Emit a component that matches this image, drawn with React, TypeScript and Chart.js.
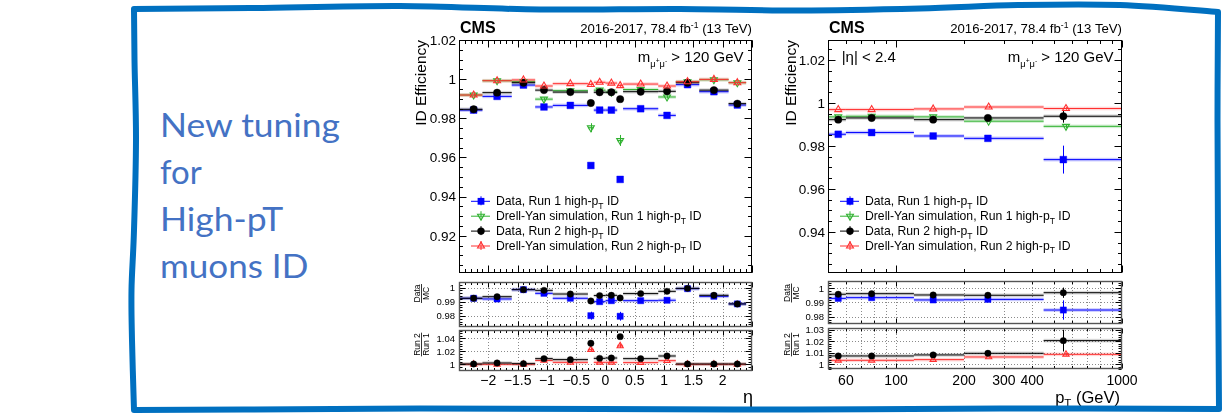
import { useEffect, useRef } from "react";
import { Chart, registerables } from "chart.js";

Chart.register(...registerables);

/* ------------------------------------------------------------------ */
/*  Efficiency vs η                                                    */
/* ------------------------------------------------------------------ */
const etaLow = [-2.5, -2.1, -1.6, -1.2, -0.9, -0.3, -0.2, 0.0, 0.2, 0.3, 0.9, 1.2, 1.6, 2.1];
const etaHigh = [-2.1, -1.6, -1.2, -0.9, -0.3, -0.2, 0.0, 0.2, 0.3, 0.9, 1.2, 1.6, 2.1, 2.4];
const etaPoint = [-2.25, -1.85, -1.4, -1.05, -0.6, -0.25, -0.1, 0.1, 0.25, 0.6, 1.05, 1.4, 1.85, 2.25];

const etaDataRun1 = [0.9842, 0.9912, 0.997, 0.9858, 0.9866, 0.9559, 0.9842, 0.9842, 0.9488, 0.9849, 0.9815, 0.9972, 0.9936, 0.9868];
const etaMcRun1 = [0.9919, 0.9992, 0.9987, 0.9898, 0.9941, 0.9752, 0.9944, 0.9934, 0.9687, 0.9947, 0.9909, 0.9987, 0.9997, 0.9982];
const etaDataRun2 = [0.9846, 0.9931, 0.9982, 0.9944, 0.9934, 0.9878, 0.9933, 0.9933, 0.9898, 0.9936, 0.9938, 0.9982, 0.9944, 0.9875];
const etaMcRun2 = [0.9919, 0.9992, 0.9996, 0.9965, 0.9977, 0.9973, 0.9984, 0.998, 0.9967, 0.9975, 0.9965, 0.9987, 0.9999, 0.9982];

const etaErrDataRun1 = [0.0007, 0.0006, 0.0005, 0.0007, 0.0005, 0.001, 0.0007, 0.0007, 0.001, 0.0005, 0.0007, 0.0005, 0.0006, 0.0008];
const etaErrMcRun1 = [0.0008, 0.0005, 0.0005, 0.0008, 0.0005, 0.0023, 0.0008, 0.0008, 0.0028, 0.0005, 0.0008, 0.0005, 0.0005, 0.0006];
const etaErrDataRun2 = [0.0005, 0.0004, 0.0003, 0.0005, 0.0003, 0.0007, 0.0005, 0.0005, 0.0007, 0.0003, 0.0005, 0.0003, 0.0004, 0.0005];
const etaErrMcRun2 = [0.0004, 0.0003, 0.0003, 0.0004, 0.0003, 0.0006, 0.0004, 0.0004, 0.0006, 0.0003, 0.0004, 0.0003, 0.0003, 0.0004];

// Data / MC
const etaRatioRun1 = [0.9925, 0.992, 0.9986, 0.996, 0.9925, 0.9802, 0.9901, 0.9908, 0.9798, 0.9908, 0.9911, 0.9993, 0.9939, 0.9885];
const etaRatioRun2 = [0.9925, 0.9936, 0.9986, 0.9981, 0.9955, 0.9906, 0.9944, 0.9946, 0.9927, 0.9958, 0.9974, 0.9995, 0.9946, 0.9885];
const etaErrRatioRun1 = [0.0009, 0.0007, 0.0006, 0.0009, 0.0006, 0.0028, 0.0009, 0.0009, 0.0031, 0.0006, 0.0009, 0.0006, 0.0007, 0.0009];
const etaErrRatioRun2 = [0.0006, 0.0005, 0.0004, 0.0006, 0.0004, 0.0008, 0.0006, 0.0006, 0.0008, 0.0004, 0.0006, 0.0004, 0.0005, 0.0006];

// Run 2 / Run 1
const etaRunRatioData = [1.0005, 1.002, 1.001, 1.0087, 1.0072, 1.0323, 1.0092, 1.0097, 1.0426, 1.0087, 1.0128, 1.0005, 1.0005, 1.0005];
const etaRunRatioMc = [1.0, 1.0, 1.0, 1.006, 1.003, 1.0226, 1.003, 1.003, 1.0282, 1.0026, 1.0056, 1.0, 1.0, 1.0];
const etaErrRunRatioData = [0.0009, 0.0007, 0.0006, 0.0009, 0.0006, 0.0013, 0.0009, 0.0009, 0.0013, 0.0006, 0.0009, 0.0006, 0.0007, 0.0009];
const etaErrRunRatioMc = [0.0009, 0.0006, 0.0006, 0.0009, 0.0006, 0.0025, 0.0009, 0.0009, 0.0029, 0.0006, 0.0009, 0.0006, 0.0006, 0.0007];

/* ------------------------------------------------------------------ */
/*  Efficiency vs pT                                                   */
/* ------------------------------------------------------------------ */
const ptLow = [50, 60, 120, 200, 450];
const ptHigh = [60, 120, 200, 450, 1000];
const ptPointData = [55.5, 78, 146, 255, 550];
const ptPointMc = [55.5, 78, 146, 257, 565];

const ptDataRun1 = [0.9854, 0.9862, 0.9846, 0.9835, 0.9736];
const ptMcRun1 = [0.9935, 0.9938, 0.9935, 0.9915, 0.9891];
const ptDataRun2 = [0.9922, 0.993, 0.9922, 0.993, 0.9938];
const ptMcRun2 = [0.9969, 0.9969, 0.9972, 0.9981, 0.9974];

const ptErrDataRun1 = [0.0005, 0.0005, 0.0007, 0.0008, 0.0065];
const ptErrMcRun1 = [0.0003, 0.0003, 0.0004, 0.0005, 0.0009];
const ptErrDataRun2 = [0.0004, 0.0004, 0.0005, 0.0006, 0.003];
const ptErrMcRun2 = [0.0002, 0.0002, 0.0003, 0.0004, 0.0006];

const ptRatioRun1 = [0.9929, 0.9934, 0.9918, 0.9922, 0.9847];
const ptRatioRun2 = [0.9958, 0.9962, 0.9953, 0.9951, 0.9969];
const ptErrRatioRun1 = [0.0006, 0.0006, 0.0008, 0.0009, 0.0068];
const ptErrRatioRun2 = [0.0005, 0.0005, 0.0006, 0.0007, 0.0036];

const ptRunRatioData = [1.0073, 1.0073, 1.0082, 1.0096, 1.0207];
const ptRunRatioMc = [1.0035, 1.0035, 1.0041, 1.0064, 1.0087];
const ptErrRunRatioData = [0.0007, 0.0007, 0.0009, 0.001, 0.0095];
const ptErrRunRatioMc = [0.0004, 0.0004, 0.0005, 0.0006, 0.0011];

/* ------------------------------------------------------------------ */
/*  Axis ticks                                                         */
/* ------------------------------------------------------------------ */
const etaMajorTicks = [-2.5, -2, -1.5, -1, -0.5, 0, 0.5, 1, 1.5, 2, 2.5];
const etaTickLabels = [-2, -1.5, -1, -0.5, 0, 0.5, 1, 1.5, 2];
const ptMajorTicks = [100, 1000];
const ptMinorTicks = [50, 60, 70, 80, 90, 200, 300, 400, 500, 600, 700, 800, 900];
const ptTickLabels = [60, 100, 200, 300, 400, 1000];
const ptGridLines = [60, 70, 80, 90, 100, 200, 300, 400, 500, 600, 700, 800, 900];

const effEtaTicks = [0.92, 0.94, 0.96, 0.98, 1.0, 1.02];
const effPtTicks = [0.94, 0.96, 0.98, 1.0, 1.02];
const dataMcTicks = [0.98, 0.99, 1.0];
const runRatioEtaTicks = [1.0, 1.02, 1.04];
const runRatioPtTicks = [1.0, 1.01, 1.02, 1.03];

/* ------------------------------------------------------------------ */
/*  Drawing helpers                                                    */
/* ------------------------------------------------------------------ */
const FONT = '"Liberation Sans", Arial, Helvetica, sans-serif';
const CW = 370;
const CH = 414;

type Piece = { t: string; s?: number; dy?: number };
type Align = "left" | "right" | "center";
type Marker = "square" | "circle" | "triUp" | "triDown";
type Style = { marker: Marker; color: string; band: string };

type TextItem =
  | { kind: "rich"; pieces: Piece[]; x: number; y: number; size: number; align: Align; bold?: boolean; rotate?: boolean }
  | { kind: "frac"; top: string; bottom: string; x: number; y: number; size: number };

interface SeriesDef {
  label: Piece[];
  style: Style;
  x: number[];
  lo: number[];
  hi: number[];
  y: number[];
  err: number[];
  order: number;
  r: number;
}

interface AxisSpec {
  major: number[];
  minor: number[];
  labels: number[];
  grid: number[];
}

interface PanelSpec {
  originX: number;
  frame: { l: number; t: number; r: number; b: number };
  xType: "linear" | "logarithmic";
  xMin: number;
  xMax: number;
  yMin: number;
  yMax: number;
  xAxis: AxisSpec;
  yAxis: AxisSpec;
  tick: { xMaj: number; xMin: number; yMaj: number; yMin: number };
  xLabelSize: number;
  xLabelBaseline: number;
  yLabelSize: number;
  yLabelGap: number;
  grid: boolean;
  frameColor: string;
  frameWidth: number;
  series: SeriesDef[];
  legend: boolean;
  texts: TextItem[];
}

function range(a: number, b: number, step: number): number[] {
  const n = Math.round((b - a) / step);
  return Array.from({ length: n + 1 }, (_, i) => +(a + i * step).toFixed(6));
}

function fmtTick(v: number): string {
  return (Math.round(v * 1000) / 1000).toString().replace("-", "\u2212");
}

function drawRich(
  ctx: CanvasRenderingContext2D,
  pieces: Piece[],
  x: number,
  y: number,
  size: number,
  align: Align,
  bold = false
) {
  const fontOf = (p: Piece) => `${bold ? "bold " : ""}${size * (p.s ?? 1)}px ${FONT}`;
  const widths = pieces.map((p) => {
    ctx.font = fontOf(p);
    return ctx.measureText(p.t).width;
  });
  const total = widths.reduce((a, b) => a + b, 0);
  let cx = align === "left" ? x : align === "right" ? x - total : x - total / 2;
  ctx.textAlign = "left";
  ctx.textBaseline = "alphabetic";
  pieces.forEach((p, i) => {
    ctx.font = fontOf(p);
    ctx.fillText(p.t, cx, y + (p.dy ?? 0) * size);
    cx += widths[i];
  });
}

function drawMarker(ctx: CanvasRenderingContext2D, marker: Marker, x: number, y: number, r: number, color: string) {
  ctx.save();
  ctx.fillStyle = color;
  ctx.strokeStyle = color;
  ctx.lineWidth = 1.1;
  ctx.beginPath();
  if (marker === "square") {
    const h = r * Math.SQRT1_2;
    ctx.rect(x - h, y - h, 2 * h, 2 * h);
    ctx.fill();
  } else if (marker === "circle") {
    ctx.arc(x, y, r, 0, Math.PI * 2);
    ctx.fill();
  } else {
    const d = marker === "triUp" ? 1 : -1;
    ctx.moveTo(x, y - d * r);
    ctx.lineTo(x + r * 0.866, y + (d * r) / 2);
    ctx.lineTo(x - r * 0.866, y + (d * r) / 2);
    ctx.closePath();
    ctx.stroke();
  }
  ctx.restore();
}

function buildChart(canvas: HTMLCanvasElement, spec: PanelSpec) {
  const ox = spec.originX;
  const f = spec.frame;
  const padding = { left: f.l - ox, right: CW - (f.r - ox), top: f.t, bottom: CH - f.b };

  const datasets = spec.series.map((s) => {
    const hollow = s.style.marker === "triUp" || s.style.marker === "triDown";
    return {
      label: s.label.map((p) => p.t).join(""),
      data: s.x.map((x, i) => ({ x, y: s.y[i] })),
      showLine: false,
      order: s.order,
      pointStyle: s.style.marker === "square" ? "rect" : s.style.marker === "circle" ? "circle" : "triangle",
      rotation: s.style.marker === "triDown" ? 180 : 0,
      pointRadius: s.r,
      pointBackgroundColor: hollow ? "rgba(0,0,0,0)" : s.style.color,
      pointBorderColor: s.style.color,
      pointBorderWidth: hollow ? 1.1 : 0.4,
    };
  });

  const pad = {
    id: "rootPad",
    beforeDatasetsDraw(chart: Chart) {
      const ctx = chart.ctx;
      const a = chart.chartArea;
      const xs = chart.scales.x;
      const ys = chart.scales.y;
      ctx.save();
      ctx.beginPath();
      ctx.rect(a.left, a.top, a.right - a.left, a.bottom - a.top);
      ctx.clip();
      if (spec.grid) {
        ctx.strokeStyle = "#8a8a8a";
        ctx.lineWidth = 1;
        ctx.setLineDash([1, 2]);
        spec.xAxis.grid.forEach((v) => {
          const x = Math.round(xs.getPixelForValue(v)) + 0.5;
          ctx.beginPath();
          ctx.moveTo(x, a.top);
          ctx.lineTo(x, a.bottom);
          ctx.stroke();
        });
        spec.yAxis.grid.forEach((v) => {
          const y = Math.round(ys.getPixelForValue(v)) + 0.5;
          ctx.beginPath();
          ctx.moveTo(a.left, y);
          ctx.lineTo(a.right, y);
          ctx.stroke();
        });
        ctx.setLineDash([]);
      }
      // bin-width bars and statistical error bars
      spec.series.forEach((s) => {
        ctx.fillStyle = s.style.band;
        ctx.strokeStyle = s.style.color;
        ctx.lineWidth = 1;
        s.y.forEach((v, i) => {
          const y = ys.getPixelForValue(v);
          const x0 = xs.getPixelForValue(s.lo[i]);
          const x1 = xs.getPixelForValue(s.hi[i]);
          ctx.fillRect(x0, y - 1.8, x1 - x0, 3.6);
          ctx.beginPath();
          ctx.moveTo(x0, y);
          ctx.lineTo(x1, y);
          ctx.stroke();
          const xp = Math.round(xs.getPixelForValue(s.x[i])) + 0.5;
          ctx.beginPath();
          ctx.moveTo(xp, ys.getPixelForValue(v - s.err[i]));
          ctx.lineTo(xp, ys.getPixelForValue(v + s.err[i]));
          ctx.stroke();
        });
      });
      ctx.restore();
    },
    afterDatasetsDraw(chart: Chart) {
      const ctx = chart.ctx;
      const a = chart.chartArea;
      const xs = chart.scales.x;
      const ys = chart.scales.y;
      const L = Math.round(a.left) + 0.5;
      const R = Math.round(a.right) - 0.5;
      const T = Math.round(a.top) + 0.5;
      const B = Math.round(a.bottom) - 0.5;
      ctx.save();

      // ticks on all four sides, pointing inwards
      ctx.strokeStyle = "#000";
      ctx.lineWidth = 1;
      const xTick = (v: number, len: number) => {
        const x = Math.round(xs.getPixelForValue(v)) + 0.5;
        ctx.beginPath();
        ctx.moveTo(x, B);
        ctx.lineTo(x, B - len);
        ctx.moveTo(x, T);
        ctx.lineTo(x, T + len);
        ctx.stroke();
      };
      const yTick = (v: number, len: number) => {
        const y = Math.round(ys.getPixelForValue(v)) + 0.5;
        ctx.beginPath();
        ctx.moveTo(L, y);
        ctx.lineTo(L + len, y);
        ctx.moveTo(R, y);
        ctx.lineTo(R - len, y);
        ctx.stroke();
      };
      spec.xAxis.minor.forEach((v) => xTick(v, spec.tick.xMin));
      spec.xAxis.major.forEach((v) => xTick(v, spec.tick.xMaj));
      spec.yAxis.minor.forEach((v) => yTick(v, spec.tick.yMin));
      spec.yAxis.major.forEach((v) => yTick(v, spec.tick.yMaj));

      // frame
      ctx.strokeStyle = spec.frameColor;
      ctx.lineWidth = spec.frameWidth;
      ctx.strokeRect(L, T, R - L, B - T);

      // tick labels
      ctx.fillStyle = "#000";
      ctx.font = `${spec.yLabelSize}px ${FONT}`;
      ctx.textAlign = "right";
      ctx.textBaseline = "alphabetic";
      spec.yAxis.labels.forEach((v) => {
        ctx.fillText(fmtTick(v), a.left - spec.yLabelGap, ys.getPixelForValue(v) + spec.yLabelSize * 0.36);
      });
      if (spec.xLabelSize > 0) {
        ctx.font = `${spec.xLabelSize}px ${FONT}`;
        ctx.textAlign = "center";
        spec.xAxis.labels.forEach((v) => {
          ctx.fillText(fmtTick(v), xs.getPixelForValue(v), spec.xLabelBaseline);
        });
      }

      // legend
      if (spec.legend) {
        const lx = a.left + 21.5;
        spec.series.forEach((s, i) => {
          const ly = 200.8 + i * 14.9;
          ctx.strokeStyle = s.style.color;
          ctx.lineWidth = 1;
          ctx.beginPath();
          ctx.moveTo(lx - 9.5, ly + 0.5);
          ctx.lineTo(lx + 9.5, ly + 0.5);
          ctx.moveTo(lx + 0.5, ly - 4.5);
          ctx.lineTo(lx + 0.5, ly + 4.5);
          ctx.stroke();
          drawMarker(ctx, s.style.marker, lx + 0.5, ly + 0.5, s.r, s.style.color);
          ctx.fillStyle = "#000";
          drawRich(ctx, s.label, lx + 15.5, ly + 4.3, 12.2, "left");
        });
      }

      // annotations
      ctx.fillStyle = "#000";
      ctx.strokeStyle = "#000";
      spec.texts.forEach((t) => {
        if (t.kind === "rich") {
          if (t.rotate) {
            ctx.save();
            ctx.translate(t.x - ox, t.y);
            ctx.rotate(-Math.PI / 2);
            drawRich(ctx, t.pieces, 0, 0, t.size, t.align, t.bold);
            ctx.restore();
          } else {
            drawRich(ctx, t.pieces, t.x - ox, t.y, t.size, t.align, t.bold);
          }
        } else {
          ctx.save();
          ctx.translate(t.x - ox, t.y);
          ctx.rotate(-Math.PI / 2);
          ctx.font = `${t.size}px ${FONT}`;
          const w = Math.max(ctx.measureText(t.top).width, ctx.measureText(t.bottom).width);
          ctx.textAlign = "center";
          ctx.textBaseline = "alphabetic";
          ctx.fillText(t.top, 0, -1.2);
          ctx.fillText(t.bottom, 0, 1.4 + t.size * 0.72);
          ctx.lineWidth = 0.8;
          ctx.beginPath();
          ctx.moveTo(-w / 2 - 0.5, 0);
          ctx.lineTo(w / 2 + 0.5, 0);
          ctx.stroke();
          ctx.restore();
        }
      });
      ctx.restore();
    },
  };

  return new Chart(canvas, {
    type: "scatter",
    data: { datasets: datasets as any },
    options: {
      animation: false,
      responsive: false,
      events: [],
      layout: { padding },
      plugins: { legend: { display: false }, tooltip: { enabled: false } },
      scales: {
        x: { type: spec.xType, min: spec.xMin, max: spec.xMax, display: false, bounds: "data" } as any,
        y: { type: "linear", min: spec.yMin, max: spec.yMax, display: false, bounds: "data" } as any,
      },
    },
    plugins: [pad as any],
  });
}

/* ------------------------------------------------------------------ */
/*  Series styles and labels                                           */
/* ------------------------------------------------------------------ */
const BLUE = "#0000ff";
const GREEN = "#2fb12f";
const BLACK = "#000000";
const RED = "#ff3030";

const styleDataRun1: Style = { marker: "square", color: BLUE, band: "rgba(0,0,255,0.22)" };
const styleMcRun1: Style = { marker: "triDown", color: GREEN, band: "rgba(47,177,47,0.2)" };
const styleDataRun2: Style = { marker: "circle", color: BLACK, band: "rgba(0,0,0,0.16)" };
const styleMcRun2: Style = { marker: "triUp", color: RED, band: "rgba(255,48,48,0.2)" };

const pT: Piece = { t: "T", s: 0.7, dy: 0.3 };
const labelDataRun1: Piece[] = [{ t: "Data, Run 1 high-p" }, pT, { t: " ID" }];
const labelMcRun1: Piece[] = [{ t: "Drell-Yan simulation, Run 1 high-p" }, pT, { t: " ID" }];
const labelDataRun2: Piece[] = [{ t: "Data, Run 2 high-p" }, pT, { t: " ID" }];
const labelMcRun2: Piece[] = [{ t: "Drell-Yan simulation, Run 2 high-p" }, pT, { t: " ID" }];

const lumiPieces: Piece[] = [{ t: "2016-2017, 78.4 fb" }, { t: "-1", s: 0.65, dy: -0.42 }, { t: " (13 TeV)" }];
const massPieces: Piece[] = [
  { t: "m" },
  { t: "\u03bc", s: 0.62, dy: 0.3 },
  { t: "+", s: 0.45, dy: 0.08 },
  { t: "\u03bc", s: 0.62, dy: 0.3 },
  { t: "-", s: 0.45, dy: 0.08 },
  { t: " > 120 GeV" },
];

/* ------------------------------------------------------------------ */
/*  Panels                                                             */
/* ------------------------------------------------------------------ */
const etaX = {
  xType: "linear" as const,
  xMin: -2.5,
  xMax: 2.5,
  xAxis: { major: etaMajorTicks, minor: range(-2.5, 2.5, 0.1), labels: etaTickLabels, grid: etaTickLabels },
};
const ptX = {
  xType: "logarithmic" as const,
  xMin: 50,
  xMax: 1000,
  xAxis: { major: ptMajorTicks, minor: ptMinorTicks, labels: ptTickLabels, grid: ptGridLines },
};

const mainCommon = {
  tick: { xMaj: 7, xMin: 3.5, yMaj: 7, yMin: 3.5 },
  xLabelSize: 0,
  xLabelBaseline: 0,
  yLabelSize: 13.5,
  yLabelGap: 3,
  grid: false,
  frameColor: "#000",
  frameWidth: 1,
  legend: true,
};
const ratioCommon = {
  tick: { xMaj: 5, xMin: 2.5, yMaj: 6, yMin: 3 },
  xLabelSize: 0,
  xLabelBaseline: 0,
  yLabelSize: 9.5,
  yLabelGap: 4,
  grid: true,
  frameColor: "#555",
  frameWidth: 1.4,
  legend: false,
};

const etaMain: PanelSpec = {
  ...mainCommon,
  ...etaX,
  originX: 400,
  frame: { l: 459, t: 40, r: 752, b: 273 },
  yMin: 0.901,
  yMax: 1.02,
  yAxis: { major: effEtaTicks, minor: range(0.905, 1.02, 0.005), labels: effEtaTicks, grid: [] },
  series: [
    { label: labelDataRun1, style: styleDataRun1, x: etaPoint, lo: etaLow, hi: etaHigh, y: etaDataRun1, err: etaErrDataRun1, order: 3, r: 4.8 },
    { label: labelMcRun1, style: styleMcRun1, x: etaPoint, lo: etaLow, hi: etaHigh, y: etaMcRun1, err: etaErrMcRun1, order: 2, r: 4 },
    { label: labelDataRun2, style: styleDataRun2, x: etaPoint, lo: etaLow, hi: etaHigh, y: etaDataRun2, err: etaErrDataRun2, order: 1, r: 3.7 },
    { label: labelMcRun2, style: styleMcRun2, x: etaPoint, lo: etaLow, hi: etaHigh, y: etaMcRun2, err: etaErrMcRun2, order: 0, r: 4 },
  ],
  texts: [
    { kind: "rich", pieces: [{ t: "CMS" }], x: 460, y: 33.3, size: 16, align: "left", bold: true },
    { kind: "rich", pieces: lumiPieces, x: 752, y: 33.3, size: 13.2, align: "right" },
    { kind: "rich", pieces: massPieces, x: 743.5, y: 62, size: 15, align: "right" },
    { kind: "rich", pieces: [{ t: "ID Efficiency" }], x: 425.5, y: 40, size: 15.5, align: "right", rotate: true },
  ],
};

const etaDataMc: PanelSpec = {
  ...ratioCommon,
  ...etaX,
  originX: 400,
  frame: { l: 459, t: 282, r: 752, b: 327 },
  yMin: 0.9722,
  yMax: 1.004,
  yAxis: { major: dataMcTicks, minor: range(0.974, 1.004, 0.002), labels: dataMcTicks, grid: dataMcTicks },
  series: [
    { label: labelDataRun1, style: styleDataRun1, x: etaPoint, lo: etaLow, hi: etaHigh, y: etaRatioRun1, err: etaErrRatioRun1, order: 1, r: 4.4 },
    { label: labelDataRun2, style: styleDataRun2, x: etaPoint, lo: etaLow, hi: etaHigh, y: etaRatioRun2, err: etaErrRatioRun2, order: 0, r: 3.2 },
  ],
  texts: [{ kind: "frac", top: "Data", bottom: "MC", x: 421.5, y: 293.5, size: 8.5 }],
};

const etaRunRatio: PanelSpec = {
  ...ratioCommon,
  ...etaX,
  originX: 400,
  frame: { l: 459, t: 330, r: 752, b: 371 },
  xLabelSize: 14,
  xLabelBaseline: 384.5,
  yMin: 0.9897,
  yMax: 1.0528,
  yAxis: { major: runRatioEtaTicks, minor: range(0.992, 1.052, 0.004), labels: runRatioEtaTicks, grid: runRatioEtaTicks },
  series: [
    { label: labelMcRun2, style: styleMcRun2, x: etaPoint, lo: etaLow, hi: etaHigh, y: etaRunRatioMc, err: etaErrRunRatioMc, order: 1, r: 3.6 },
    { label: labelDataRun2, style: styleDataRun2, x: etaPoint, lo: etaLow, hi: etaHigh, y: etaRunRatioData, err: etaErrRunRatioData, order: 0, r: 3.2 },
  ],
  texts: [
    { kind: "frac", top: "Run 2", bottom: "Run 1", x: 421.5, y: 344.5, size: 8.5 },
    { kind: "rich", pieces: [{ t: "\u03b7" }], x: 753, y: 403, size: 18, align: "right" },
  ],
};

const ptMain: PanelSpec = {
  ...mainCommon,
  ...ptX,
  originX: 770,
  frame: { l: 828, t: 40, r: 1122, b: 273 },
  yMin: 0.9208,
  yMax: 1.0293,
  yAxis: { major: effPtTicks, minor: range(0.925, 1.025, 0.005), labels: effPtTicks, grid: [] },
  series: [
    { label: labelDataRun1, style: styleDataRun1, x: ptPointData, lo: ptLow, hi: ptHigh, y: ptDataRun1, err: ptErrDataRun1, order: 3, r: 4.8 },
    { label: labelMcRun1, style: styleMcRun1, x: ptPointMc, lo: ptLow, hi: ptHigh, y: ptMcRun1, err: ptErrMcRun1, order: 2, r: 4 },
    { label: labelDataRun2, style: styleDataRun2, x: ptPointData, lo: ptLow, hi: ptHigh, y: ptDataRun2, err: ptErrDataRun2, order: 1, r: 3.7 },
    { label: labelMcRun2, style: styleMcRun2, x: ptPointMc, lo: ptLow, hi: ptHigh, y: ptMcRun2, err: ptErrMcRun2, order: 0, r: 4 },
  ],
  texts: [
    { kind: "rich", pieces: [{ t: "CMS" }], x: 829, y: 33.3, size: 16, align: "left", bold: true },
    { kind: "rich", pieces: lumiPieces, x: 1122, y: 33.3, size: 13.2, align: "right" },
    { kind: "rich", pieces: [{ t: "|\u03b7| < 2.4" }], x: 841.7, y: 62, size: 15, align: "left" },
    { kind: "rich", pieces: massPieces, x: 1113.5, y: 62, size: 15, align: "right" },
    { kind: "rich", pieces: [{ t: "ID Efficiency" }], x: 795.5, y: 40, size: 15.5, align: "right", rotate: true },
  ],
};

const ptDataMc: PanelSpec = {
  ...ratioCommon,
  ...ptX,
  originX: 770,
  frame: { l: 828, t: 281, r: 1122, b: 324 },
  yMin: 0.97486,
  yMax: 1.00514,
  yAxis: { major: dataMcTicks, minor: range(0.976, 1.004, 0.002), labels: dataMcTicks, grid: dataMcTicks },
  series: [
    { label: labelDataRun1, style: styleDataRun1, x: ptPointData, lo: ptLow, hi: ptHigh, y: ptRatioRun1, err: ptErrRatioRun1, order: 1, r: 4.4 },
    { label: labelDataRun2, style: styleDataRun2, x: ptPointData, lo: ptLow, hi: ptHigh, y: ptRatioRun2, err: ptErrRatioRun2, order: 0, r: 3.2 },
  ],
  texts: [{ kind: "frac", top: "Data", bottom: "MC", x: 791.5, y: 293, size: 8.5 }],
};

const ptRunRatio: PanelSpec = {
  ...ratioCommon,
  ...ptX,
  originX: 770,
  frame: { l: 828, t: 328, r: 1122, b: 369 },
  xLabelSize: 14,
  xLabelBaseline: 384.5,
  yMin: 0.99589,
  yMax: 1.03175,
  yAxis: { major: runRatioPtTicks, minor: range(0.996, 1.03, 0.002), labels: runRatioPtTicks, grid: runRatioPtTicks },
  series: [
    { label: labelMcRun2, style: styleMcRun2, x: ptPointMc, lo: ptLow, hi: ptHigh, y: ptRunRatioMc, err: ptErrRunRatioMc, order: 1, r: 3.6 },
    { label: labelDataRun2, style: styleDataRun2, x: ptPointData, lo: ptLow, hi: ptHigh, y: ptRunRatioData, err: ptErrRunRatioData, order: 0, r: 3.2 },
  ],
  texts: [
    { kind: "frac", top: "Run 2", bottom: "Run 1", x: 791.5, y: 344.5, size: 8.5 },
    { kind: "rich", pieces: [{ t: "p" }, { t: "T", s: 0.7, dy: 0.3 }, { t: " (GeV)" }], x: 1120, y: 402.5, size: 16.5, align: "right" },
  ],
};

const PANELS = [etaMain, etaDataMc, etaRunRatio, ptMain, ptDataMc, ptRunRatio];

/* ------------------------------------------------------------------ */
/*  Slide frame                                                        */
/* ------------------------------------------------------------------ */
type Pt = [number, number];
function smoothEdge(pts: Pt[]): string {
  let d = "";
  for (let i = 0; i < pts.length - 1; i++) {
    const p0 = pts[Math.max(i - 1, 0)];
    const p1 = pts[i];
    const p2 = pts[i + 1];
    const p3 = pts[Math.min(i + 2, pts.length - 1)];
    const c1: Pt = [p1[0] + (p2[0] - p0[0]) / 6, p1[1] + (p2[1] - p0[1]) / 6];
    const c2: Pt = [p2[0] - (p3[0] - p1[0]) / 6, p2[1] - (p3[1] - p1[1]) / 6];
    d += ` C ${c1[0].toFixed(1)} ${c1[1].toFixed(1)} ${c2[0].toFixed(1)} ${c2[1].toFixed(1)} ${p2[0]} ${p2[1]}`;
  }
  return d;
}

const edgeTop: Pt[] = [[134, 9], [250, 8], [400, 6], [540, 9.5], [680, 9], [800, 10.5], [920, 8.5], [1020, 5], [1120, 5], [1218, 12]];
const edgeRight: Pt[] = [[1218, 12], [1217.5, 120], [1218, 250], [1219, 409]];
const edgeBottom: Pt[] = [[1219, 409], [1000, 408.5], [800, 409.5], [600, 409], [420, 408.5], [250, 409.5], [134, 410]];
const edgeLeft: Pt[] = [[134, 410], [132, 340], [131.5, 290], [134, 230], [136, 140], [134.5, 60], [134, 9]];
const borderPath =
  `M ${edgeTop[0][0]} ${edgeTop[0][1]}` +
  smoothEdge(edgeTop) +
  smoothEdge(edgeRight) +
  smoothEdge(edgeBottom) +
  smoothEdge(edgeLeft) +
  " Z";

const titleLines = [
  { text: "New tuning", y: 137, w: 180 },
  { text: "for", y: 184, w: 41.7 },
  { text: "High-pT", y: 231, w: 123.3 },
  { text: "muons ID", y: 278, w: 148.3 },
];

/* ------------------------------------------------------------------ */
/*  Components                                                         */
/* ------------------------------------------------------------------ */
function Panel({ spec }: { spec: PanelSpec }) {
  const ref = useRef<HTMLCanvasElement>(null);
  useEffect(() => {
    if (!ref.current) return;
    const chart = buildChart(ref.current, spec);
    return () => chart.destroy();
  }, [spec]);
  return (
    <canvas
      ref={ref}
      width={CW}
      height={CH}
      style={{ position: "absolute", left: spec.originX, top: 0, width: CW, height: CH }}
    />
  );
}

export default function App() {
  return (
    <div style={{ position: "absolute", left: 0, top: 0, width: 1225, height: 414, background: "#fff", overflow: "hidden" }}>
      <svg width={1225} height={414} style={{ position: "absolute", left: 0, top: 0 }}>
        {titleLines.map((l) => (
          <text
            key={l.text}
            x={160}
            y={l.y}
            fontFamily="Lato, 'Open Sans', sans-serif"
            fontWeight={400}
            fontSize={33}
            fill="#4472C4"
            textLength={l.w}
            lengthAdjust="spacingAndGlyphs"
          >
            {l.text}
          </text>
        ))}
      </svg>
      {PANELS.map((p, i) => (
        <Panel key={i} spec={p} />
      ))}
      <svg width={1225} height={414} style={{ position: "absolute", left: 0, top: 0, pointerEvents: "none" }}>
        <path d={borderPath} fill="none" stroke="#0070C0" strokeWidth={6} strokeLinejoin="round" />
      </svg>
    </div>
  );
}
